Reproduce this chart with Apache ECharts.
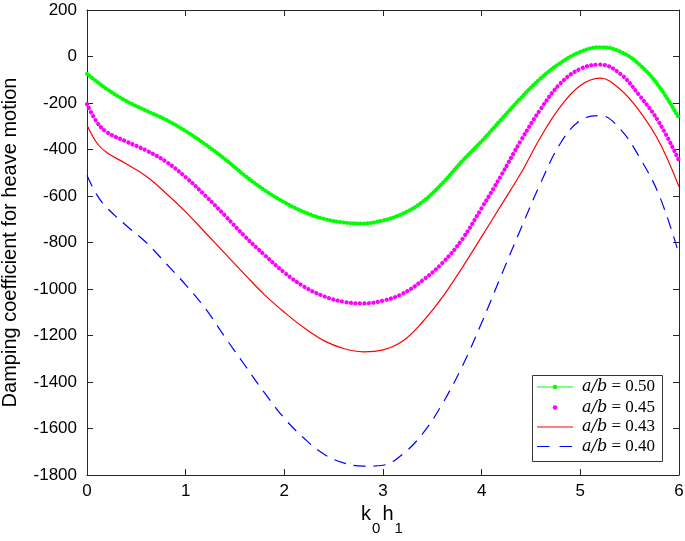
<!DOCTYPE html>
<html><head><meta charset="utf-8">
<script src="https://cdn.jsdelivr.net/npm/echarts@6/dist/echarts.min.js"></script>
<style>html,body{margin:0;padding:0;background:#fff}#c{width:685px;height:541px}</style>
</head><body><div id="c"></div>
<script>
// k0h1 sample positions
const kh = [0,0.1,0.2,0.4,0.6,0.8,1.0,1.2,1.4,1.6,1.8,2.0,2.2,2.4,2.6,2.8,3.0,3.2,3.4,3.6,3.8,4.0,4.2,4.4,4.6,4.8,5.0,5.2,5.4,5.6,5.8,6.0];
// damping coefficient for each a/b
const ab050 = [-75,-108,-140,-192,-233,-272,-321,-378,-442,-512,-575,-627,-669,-698,-714,-718,-705,-676,-625,-546,-451,-364,-270,-177,-93,-27,20,40,22,-35,-130,-265];
const ab045 = [-205,-282,-325,-366,-404,-452,-519,-599,-685,-774,-854,-929,-990,-1031,-1055,-1062,-1050,-1020,-963,-889,-788,-652,-510,-360,-225,-115,-53,-35,-73,-168,-285,-447];
const ab043 = [-295,-372,-413,-462,-515,-588,-668,-758,-848,-938,-1025,-1100,-1167,-1222,-1256,-1270,-1262,-1224,-1142,-1036,-910,-775,-638,-500,-345,-215,-125,-93,-140,-235,-368,-560];
const ab040 = [-512,-595,-650,-728,-800,-890,-982,-1084,-1208,-1328,-1447,-1556,-1642,-1710,-1748,-1762,-1758,-1710,-1623,-1495,-1335,-1145,-940,-738,-542,-372,-275,-254,-310,-434,-598,-850];
const seriesNames = ['a/b = 0.50','a/b = 0.45','a/b = 0.43','a/b = 0.40'];
const seriesColors = ['#00ff00','#ff00ff','#ff0000','#0000ff'];
const xRange = [0, 6, 1];
const yRange = [-1800, 200, 200];

const pairs = arr => kh.map((k, i) => [k, arr[i]]);
const axisColor = '#262626';
const sans = 'Liberation Sans';

function xAx(pos, main) {
  return {
    type: 'value', position: pos, min: xRange[0], max: xRange[1], interval: xRange[2],
    axisLine: {show: true, onZero: false, lineStyle: {color: axisColor, width: 1}},
    axisTick: {show: true, inside: true, length: 6, lineStyle: {color: axisColor}},
    axisLabel: {show: main, color: '#000', fontSize: 17, fontFamily: sans, margin: 8},
    splitLine: {show: false},
    name: main ? '{k|k}{s|0}{k|h}{s|1}' : '',
    nameLocation: 'middle', nameGap: 27,
    nameTextStyle: {
      rich: {
        k: {fontSize: 20, fontFamily: sans, color: '#000', verticalAlign: 'top', lineHeight: 22},
        s: {fontSize: 15, fontFamily: sans, color: '#000', verticalAlign: 'bottom', lineHeight: 31, padding: [0, 2, 0, 1]}
      }
    }
  };
}
function yAx(pos, main) {
  return {
    type: 'value', position: pos, min: yRange[0], max: yRange[1], interval: yRange[2],
    axisLine: {show: true, onZero: false, lineStyle: {color: axisColor, width: 1}},
    axisTick: {show: true, inside: true, length: 6, lineStyle: {color: axisColor}},
    axisLabel: {show: main, color: '#000', fontSize: 17, fontFamily: sans, margin: 10,
      formatter: v => String(v)},
    splitLine: {show: false},
    name: main ? 'Damping coefficient for heave motion' : '',
    nameLocation: 'middle', nameGap: 67,
    nameTextStyle: {fontSize: 20, fontFamily: sans, color: '#000'}
  };
}

// Legend drawn as a graphic box (layout only; texts/colours come from the series lists)
const LG = {x: 532.5, y: 375.5, w: 130, h: 86, rows: [387, 407.5, 427, 446.5], ix0: 537, ix1: 573, tx: 582};
const legendEls = [{type: 'rect', shape: {x: LG.x, y: LG.y, width: LG.w, height: LG.h},
  style: {fill: '#fff', stroke: '#333', lineWidth: 1}}];
const iconKinds = ['lineDot', 'dot', 'line', 'dash'];
seriesNames.forEach((n, i) => {
  const cy = LG.rows[i], c = seriesColors[i], mid = (LG.ix0 + LG.ix1) / 2;
  const k = iconKinds[i];
  if (k === 'lineDot' || k === 'line' || k === 'dash') {
    legendEls.push({type: 'line', shape: {x1: LG.ix0, y1: cy, x2: LG.ix1, y2: cy},
      style: {stroke: c, lineWidth: 1.2, lineDash: k === 'dash' ? [12.5, 10] : null}});
  }
  if (k === 'lineDot' || k === 'dot') {
    legendEls.push({type: 'circle', shape: {cx: mid, cy: cy, r: 2.3}, style: {fill: c}});
  }
  legendEls.push({type: 'text', x: LG.tx, y: cy, style: {
    text: '{i|a/b} = ' + n.split('= ')[1], verticalAlign: 'middle', align: 'left',
    font: '17px "Liberation Serif"', fill: '#000',
    rich: {i: {fontStyle: 'italic', fontFamily: 'DejaVu Serif', fontSize: 16, fill: '#000'}}}});
});

const chart = echarts.init(document.getElementById('c'), null, {renderer: 'canvas'});
chart.setOption({
  animation: false,
  backgroundColor: '#fff',
  grid: {left: 87, right: 6, top: 10, bottom: 66, containLabel: false, outerBoundsMode: 'none'},
  xAxis: [xAx('bottom', true), xAx('top', false)],
  yAxis: [yAx('left', true), yAx('right', false)],
  graphic: [{type: 'group', z: 100, silent: true, children: legendEls}],
  series: seriesNames.map((n, i) => ({
    name: n, type: 'line', data: pairs([ab050, ab045, ab043, ab040][i]), smooth: 0.4,
    symbol: 'none', showSymbol: false,
    itemStyle: {color: seriesColors[i]},
    lineStyle: [
      {color: seriesColors[0], width: 4, type: [0.1, 3.3], cap: 'round'},
      {color: seriesColors[1], width: 4.2, type: [0.1, 4.4], cap: 'round'},
      {color: seriesColors[2], width: 1.2},
      {color: seriesColors[3], width: 1.2, type: [12, 8]}
    ][i]
  }))
});
</script></body></html>
